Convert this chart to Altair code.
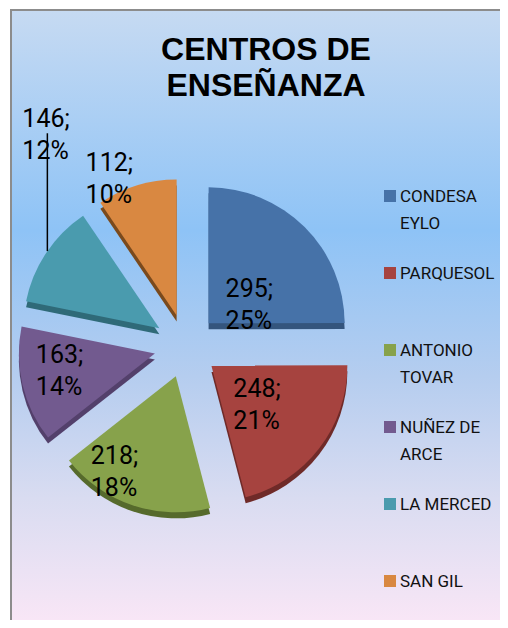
import math
import altair as alt
import pandas as pd

# ---- data ----
names = ["CONDESA EYLO", "PARQUESOL", "ANTONIO TOVAR", "NUÑEZ DE ARCE", "LA MERCED", "SAN GIL"]
legend_text = ["CONDESA\nEYLO", "PARQUESOL", "ANTONIO\nTOVAR", "NUÑEZ DE\nARCE", "LA MERCED", "SAN GIL"]
values = [295, 248, 218, 163, 146, 112]
percents = [25, 21, 18, 14, 12, 10]
title_text = "CENTROS DE\nENSEÑANZA"

# ---- styles / layout ----
colors = ["#4672a8", "#a6433f", "#87a24b", "#725a8f", "#4a9bae", "#d98841"]
dark_colors = ["#34557d", "#6f2a28", "#566a2c", "#53406b", "#2f6a78", "#7a4a1d"]
W, H = 492, 612
CX, CY = 178, 338
R = 136
EXPLODE = 32
DEPTH = 6
label_dx = [17, 22, -85, -119, -137, -91]
label_dy = [-26, 31, 88, 10, -201, -144]
LEADER_SLICE = 4
LEADER_X_IN_LABEL = 25
LEG_X, LEG_Y0, LEG_STEP = 382, 188, 77

total = sum(values)
rows = []
cum = 0
for i, (n, v, p) in enumerate(zip(names, values, percents)):
    c0, c1 = cum, cum + v
    cum = c1
    mid = (c0 + c1) / 2 / total * 2 * math.pi
    ax = CX + EXPLODE * math.sin(mid)
    ay = CY - EXPLODE * math.cos(mid)
    rows.append(dict(
        name=n, value=v, c0=c0, c1=c1, ax=ax, ay=ay,
        lx=ax + label_dx[i], ly=ay + label_dy[i],
        label=f"{v};\n{p}%", legend=legend_text[i],
        gx=LEG_X, gy=LEG_Y0 + LEG_STEP * i, tx=LEG_X + 10, ty=LEG_Y0 + LEG_STEP * i + 6,
    ))
df = pd.DataFrame(rows)

# leader line for the label drawn outside its slice
lr = df.iloc[LEADER_SLICE]
lead_x = lr.lx + LEADER_X_IN_LABEL
lead_top = lr.ly + 6
lead_bot = lr.ay - math.sqrt(max(R * R - (lead_x - lr.ax) ** 2, 0))
leader_df = pd.DataFrame([dict(x=lead_x, y=lead_top, y2=lead_bot)])

theta_enc = alt.Theta("c0:Q", stack=None,
                      scale=alt.Scale(domain=[0, total], range=[0, 2 * math.pi]))
theta2_enc = alt.Theta2("c1:Q")
x_enc = alt.X("ax:Q", scale=None, axis=None)
y_enc = alt.Y("ay:Q", scale=None, axis=None)

one = pd.DataFrame({"a": [0]})

background = alt.Chart(one).mark_rect(
    color=alt.Gradient(
        gradient="linear", x1=0, x2=0, y1=0, y2=1,
        stops=[
            alt.GradientStop(offset=0, color="#c6daf2"),
            alt.GradientStop(offset=0.36, color="#8ec3f6"),
            alt.GradientStop(offset=0.6, color="#b5cdef"),
            alt.GradientStop(offset=0.8, color="#d9dcf1"),
            alt.GradientStop(offset=1, color="#f8e6f6"),
        ],
    )
).encode(x=alt.value(4), x2=alt.value(W), y=alt.value(3), y2=alt.value(H))

border_left = alt.Chart(one).mark_rule(color="#8c8c8c", strokeWidth=2).encode(
    x=alt.value(3), y=alt.value(1), y2=alt.value(H))
border_top = alt.Chart(one).mark_rule(color="#8c8c8c", strokeWidth=2).encode(
    x=alt.value(2), x2=alt.value(W), y=alt.value(2))

depth = alt.Chart(df).mark_arc(radius=R, yOffset=DEPTH).encode(
    theta=theta_enc, theta2=theta2_enc, x=x_enc, y=y_enc,
    color=alt.Color("name:N", scale=alt.Scale(domain=names, range=dark_colors), legend=None),
)

top = alt.Chart(df).mark_arc(radius=R).encode(
    theta=theta_enc, theta2=theta2_enc, x=x_enc, y=y_enc,
    color=alt.Color("name:N", scale=alt.Scale(domain=names, range=colors), legend=None),
)

labels = alt.Chart(df).mark_text(
    font="Roboto", fontSize=25, align="left", baseline="alphabetic",
    lineBreak="\n", lineHeight=32, color="black",
).encode(x=alt.X("lx:Q", scale=None, axis=None), y=alt.Y("ly:Q", scale=None, axis=None),
         text="label:N")

leader = alt.Chart(leader_df).mark_rule(color="black", strokeWidth=1.5).encode(
    x=alt.X("x:Q", scale=None, axis=None), y=alt.Y("y:Q", scale=None, axis=None), y2="y2:Q")

title = alt.Chart(pd.DataFrame({"t": [title_text]})).mark_text(
    font="Liberation Sans", fontWeight="bold", fontSize=32, align="center",
    baseline="alphabetic", lineBreak="\n", lineHeight=36, color="black",
).encode(x=alt.value(258), y=alt.value(52), text="t:N")

leg_sq = alt.Chart(df).mark_square(size=144, opacity=1).encode(
    x=alt.X("gx:Q", scale=None, axis=None), y=alt.Y("gy:Q", scale=None, axis=None),
    color=alt.Color("name:N", scale=alt.Scale(domain=names, range=colors), legend=None),
)
leg_txt = alt.Chart(df).mark_text(
    font="Roboto", fontSize=17, align="left", baseline="alphabetic",
    lineBreak="\n", lineHeight=27, color="#111111",
).encode(x=alt.X("tx:Q", scale=None, axis=None), y=alt.Y("ty:Q", scale=None, axis=None),
         text="legend:N")

chart = alt.layer(
    background, border_left, border_top, depth, top, leader, labels, title, leg_sq, leg_txt
).resolve_scale(color="independent").properties(
    width=W, height=H, padding=0, autosize="none"
).configure_view(stroke=None)

chart.save("out.html", embed_options={"renderer": "svg", "actions": False})
